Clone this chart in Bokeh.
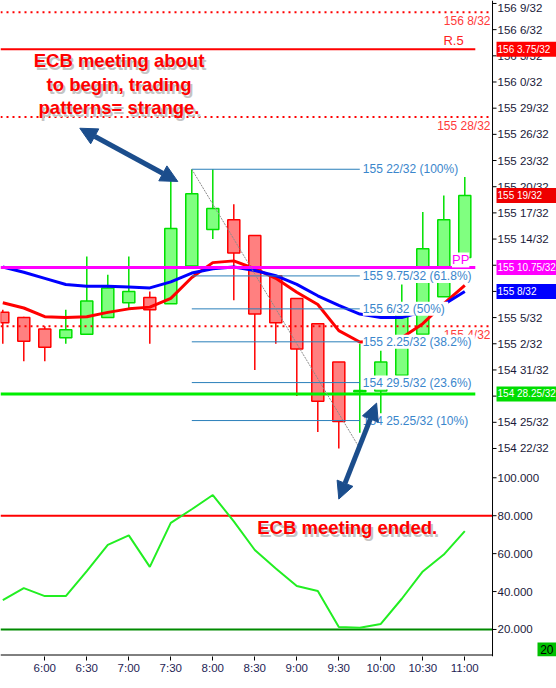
from bokeh.plotting import figure
from bokeh.models import (ColumnDataSource, Range1d, FixedTicker, Label, LabelSet, Arrow,
                          NormalHead, Span)
from bokeh.core.properties import value
from bokeh.embed import file_html
from bokeh.resources import INLINE

# ---------------- data ----------------
bar_times = ["5:30", "5:45", "6:00", "6:15", "6:30", "6:45", "7:00", "7:15", "7:30", "7:45",
             "8:00", "8:15", "8:30", "8:45", "9:00", "9:15", "9:30", "9:45", "10:00", "10:15",
             "10:30", "10:45", "11:00"]
# prices in 32nds above 154 0/32   (price = 154 + v/32)
open32 = [37.6, 37.0, 35.7, 34.7, 35.1, 37.0, 38.7, 39.3, 38.6, 42.9, 47.1, 48.2,
          46.4, 41.8, 39.2, 36.3, 31.9, 28.5, 28.6, 30.4, 35.1, 39.4, 43.9]
high32 = [37.9, 37.1, 36.0, 37.9, 44.0, 41.9, 44.0, 40.0, 52.7, 54.0, 54.0, 50.0,
          46.4, 41.8, 39.2, 36.3, 31.9, 34.0, 33.2, 40.8, 49.1, 51.0, 53.1]
low32 = [34.0, 32.0, 32.0, 34.0, 35.0, 37.0, 38.0, 34.0, 38.6, 42.9, 46.0, 39.0,
         31.0, 34.0, 28.0, 23.9, 22.0, 23.8, 26.0, 30.4, 35.1, 39.4, 43.9]
close32 = [36.4, 34.3, 33.6, 35.6, 38.9, 40.4, 40.0, 37.9, 47.2, 51.2, 49.5, 44.4,
           37.4, 36.4, 33.4, 27.4, 25.1, 28.65, 31.9, 37.9, 44.9, 48.2, 51.0]
ma_fast32 = [38.7, 38.1, 37.1, 37.0, 37.1, 37.6, 38.0, 38.2, 39.2, 41.6, 43.3, 43.5,
             42.6, 41.5, 39.9, 38.5, 35.5, 34.2, 34.3, 34.7, 36.3, 38.6, 40.7]
ma_slow32 = [42.8, 42.2, 41.5, 40.8, 40.6, 40.6, 40.5, 40.4, 41.1, 42.1, 42.6, 42.8,
             42.4, 41.8, 40.8, 39.5, 38.4, 37.4, 37.0, 37.0, 37.7, 38.5, 40.0]
oscillator = [35.5, 41.8, 37.6, 37.6, 50.8, 64.6, 69.6, 53.0, 76.2, 83.4, 90.9, 77.0,
              61.9, 52.2, 42.9, 40.3, 21.3, 20.9, 22.9, 36.2, 50.6, 59.5, 71.9]

time_ticks = ["6:00", "6:30", "7:00", "7:30", "8:00", "8:30", "9:00", "9:30",
              "10:00", "10:30", "11:00"]
price_ticks32 = list(range(22, 74, 3))
osc_ticks = [20, 40, 60, 80, 100]
osc_levels = [80, 20]
osc_level_colors = ["#ff0000", "#008a00"]
osc_period_tag = "20"

pivot_levels32 = [67.75, 42.75, 28.25]          # R.5, PP, support
pivot_colors = ["#ff0000", "#ff00ff", "#00ee00"]
pivot_widths = [2, 3, 3]
dotted_levels32 = [72, 60, 36]

fib_high32, fib_low32 = 54, 22
fib_high_bar, fib_low_bar = "7:45", "9:45"
fib_ratios = [1.0, 0.618, 0.5, 0.382, 0.236, 0.1]


# ---------------- helpers ----------------
def tmin(s):
    h, m = s.split(":")
    return int(h) * 60 + int(m)


def pr(v):
    return 154 + v / 32.0


def fmt32(v):
    q = round(v * 4) / 4
    whole = int(q // 32)
    f = q - 32 * whole
    fs = ("%d" % f) if f == int(f) else ("%g" % f)
    return "%d %s/32" % (154 + whole, fs)


FONT = "Liberation Sans"
W, H = 556, 688
X_LO, X_HI = 328.36, 725.5      # visible time span (minutes)
AXIS_T = 679.8                  # where the price scale sits
P_LO, P_HI = pr(-1.84), pr(73.34)
O_LO, O_HI = 5.75, 351.7
O_BASE = 6.54                   # bottom edge of the chart area (oscillator units)
PX_PER_MIN = W / (X_HI - X_LO)

t = [tmin(s) for s in bar_times]
half_bar = (t[1] - t[0]) / 2.0

p = figure(width=W, height=H, x_range=Range1d(X_LO, X_HI), y_range=Range1d(P_LO, P_HI),
           output_backend="svg", toolbar_location=None, y_axis_location=None,
           min_border_left=0, min_border_top=0, min_border_right=0, min_border_bottom=32)
p.extra_y_ranges = {"osc": Range1d(O_LO, O_HI)}
p.xgrid.visible = False
p.ygrid.visible = False
p.outline_line_color = None
p.background_fill_color = "white"
p.border_fill_color = "white"

# x axis
xa = p.xaxis[0]
xa.ticker = FixedTicker(ticks=[tmin(s) for s in time_ticks])
xa.major_label_overrides = {tmin(s): s for s in time_ticks}
xa.major_tick_out = 4
xa.major_tick_in = 0
xa.minor_tick_out = 0
xa.minor_tick_in = 0
xa.axis_line_color = None
xa.major_tick_line_color = "black"
xa.major_label_text_font = FONT
xa.major_label_text_font_size = "11.5px"
xa.major_label_text_color = "#1e1e55"
xa.major_label_standoff = 1

# oscillator panel
for lvl, col in zip(osc_levels, osc_level_colors):
    p.segment(x0=[X_LO], y0=[lvl], x1=[AXIS_T], y1=[lvl], y_range_name="osc",
              line_color=col, line_width=2)
p.line(t, oscillator, y_range_name="osc", line_color="#22ee22", line_width=2)

# candles
up = [c >= o for o, c in zip(open32, close32)]


def cds(flag):
    idx = [i for i in range(len(t)) if up[i] == flag]
    return ColumnDataSource(dict(
        x=[t[i] for i in idx],
        top=[pr(max(open32[i], close32[i])) for i in idx],
        bottom=[pr(min(open32[i], close32[i])) for i in idx],
        high=[pr(high32[i]) for i in idx],
        low=[pr(low32[i]) for i in idx]))


for flag, line_c, fill_c in [(True, "#00e000", "#80ff80"), (False, "#ff0000", "#ff8080")]:
    s = cds(flag)
    p.segment(x0="x", y0="low", x1="x", y1="high", source=s, line_color=line_c, line_width=1.5)
    p.vbar(x="x", width=8.6, top="top", bottom="bottom", source=s,
           fill_color=fill_c, line_color=line_c, line_width=1.5)

# moving averages
p.line(t, [pr(v) for v in ma_fast32], line_color="#ff0000", line_width=3)
p.line(t, [pr(v) for v in ma_slow32], line_color="#0000ff", line_width=3)

# pivot lines
for lvl, col, w in zip(pivot_levels32, pivot_colors, pivot_widths):
    p.segment(x0=[X_LO], y0=[pr(lvl)], x1=[t[-1] + half_bar], y1=[pr(lvl)],
              line_color=col, line_width=w)

# dotted levels
for lvl in dotted_levels32:
    p.segment(x0=[X_LO], y0=[pr(lvl)], x1=[AXIS_T], y1=[pr(lvl)], line_color="#ff0000",
              line_width=2, line_dash="2 4")
    p.add_layout(Label(x=AXIS_T, y=pr(lvl), x_offset=-2, y_offset=-2, text=fmt32(lvl),
                       text_align="right", text_baseline="top", text_color="#ff3a3a",
                       text_font=FONT, text_font_size="12px"))

# fibonacci retracement
tf0, tf1 = tmin(fib_high_bar), tmin(fib_low_bar)
fib_lv = [fib_low32 + r * (fib_high32 - fib_low32) for r in fib_ratios]
p.segment(x0=[tf0] * len(fib_lv), y0=[pr(v) for v in fib_lv], x1=[tf1] * len(fib_lv),
          y1=[pr(v) for v in fib_lv], line_color="#2a7fba", line_width=1)
p.line([tf0, tf1], [pr(fib_high32), pr(fib_low32)], line_color="#8a8a8a", line_width=1,
       line_dash="2 1")
fib_src = ColumnDataSource(dict(
    x=[tf1] * len(fib_lv), y=[pr(v) for v in fib_lv],
    text=["%s  (%s%%)" % (fmt32(v), "%g" % round(r * 100, 1)) for v, r in zip(fib_lv, fib_ratios)]))
p.add_layout(LabelSet(x="x", y="y", text="text", source=fib_src, x_offset=3,
                      text_baseline="middle", text_align="left", text_color="#3a86cc",
                      text_font=value(FONT), text_font_size=value("12px"),
                      background_fill_color="white"))

# pivot labels
p.add_layout(Label(x=t[-1] + half_bar, y=pr(pivot_levels32[1]), x_offset=-6, text="PP",
                   text_align="right", text_baseline="bottom", text_color="#ff00ff",
                   text_font=FONT, text_font_size="13px", background_fill_color="white"))
p.add_layout(Label(x=tmin("10:52"), y=pr(pivot_levels32[0]), y_offset=1, text="R.5",
                   text_align="center", text_baseline="bottom", text_color="#ff2020",
                   text_font=FONT, text_font_size="13px"))

# ---------------- price / oscillator scale on the right ----------------
p.add_layout(Span(location=AXIS_T, dimension="height", line_color="black", line_width=1))
p.segment(x0=[X_LO], y0=[O_BASE], x1=[AXIS_T], y1=[O_BASE], y_range_name="osc",
          line_color="black", line_width=1)
# the topmost price label is nudged down a few pixels so it stays fully inside the chart
scale_src = ColumnDataSource(dict(x=[AXIS_T] * len(price_ticks32),
                                  y=[pr(v) for v in price_ticks32],
                                  text=[fmt32(v) for v in price_ticks32],
                                  dy=[5 if v == max(price_ticks32) else 0 for v in price_ticks32]))
osc_src = ColumnDataSource(dict(x=[AXIS_T] * len(osc_ticks), y=osc_ticks,
                                text=["%.3f" % o for o in osc_ticks],
                                dy=[0] * len(osc_ticks)))
for src, rname in [(scale_src, "default"), (osc_src, "osc")]:
    p.ray(x="x", y="y", length=4, length_units="screen", angle=0, source=src,
          y_range_name=rname, line_color="black", line_width=1)
    p.text(x="x", y="y", text="text", source=src, y_range_name=rname, x_offset=5,
           y_offset="dy", text_align="left", text_baseline="middle", text_color="#1a1a3a",
           text_font=value(FONT), text_font_size=value("11.5px"))

# colored value tags on the scale (box glyph + white text)
tag_values32 = [pivot_levels32[0], close32[-1], pivot_levels32[1], ma_slow32[-1], pivot_levels32[2]]
tag_colors = ["#ff0000", "#ee0000", "#ff00ff", "#0000ff", "#00dd00"]
tag_left = AXIS_T + 4 / PX_PER_MIN
p.rect(x=[(tag_left + X_HI) / 2] * len(tag_values32), y=[pr(v) for v in tag_values32],
       width=X_HI - tag_left, height=15, height_units="screen",
       fill_color=tag_colors, line_color=None)
for lvl in tag_values32:
    p.add_layout(Label(x=AXIS_T, y=pr(lvl), x_offset=5, text=fmt32(lvl), text_align="left",
                       text_baseline="middle", text_color="white", text_font=FONT,
                       text_font_size="10px"))
tag20_left = X_HI - 19 / PX_PER_MIN
p.rect(x=[(tag20_left + X_HI) / 2], y=[9.4], y_range_name="osc", width=X_HI - tag20_left,
       height=14, height_units="screen", fill_color="#00c000", line_color=None)
p.add_layout(Label(x=X_HI, y=9.4, y_range_name="osc", x_offset=-3, text=osc_period_tag,
                   text_align="right", text_baseline="middle", text_color="black",
                   text_font=FONT, text_font_size="12px"))

# ---------------- annotations ----------------
ann_color = "#1b4d8c"
for (x0, y0, x1, y1) in [(tmin("6:25"), pr(58.7), tmin("7:35"), pr(52.6)),
                         (tmin("9:57"), pr(27.2), tmin("9:30"), pr(16.2))]:
    p.add_layout(Arrow(x_start=x0, y_start=y0, x_end=x1, y_end=y1, line_color=ann_color,
                       line_width=5,
                       start=NormalHead(size=17, fill_color=ann_color, line_color=ann_color),
                       end=NormalHead(size=17, fill_color=ann_color, line_color=ann_color)))

ecb_lines = ["ECB meeting about", "to begin, trading", "patterns= strange."]
ecb_y32 = [66.45, 63.7, 61.1]
for txt, yv in zip(ecb_lines, ecb_y32):
    for col, dx, dy in [("#c4c4c4", 2, -3), ("#ff0000", 0, 0)]:
        p.add_layout(Label(x=tmin("6:53"), y=pr(yv), x_offset=dx, y_offset=dy, text=txt,
                           text_align="center", text_baseline="middle", text_color=col,
                           text_font=FONT, text_font_style="bold", text_font_size="18.5px"))
for col, dx, dy in [("#c4c4c4", 2, -3), ("#ff0000", 0, 0)]:
    p.add_layout(Label(x=tmin("9:36"), y=73.6, y_range_name="osc", x_offset=dx, y_offset=dy,
                       text="ECB meeting ended.", text_align="center", text_baseline="middle",
                       text_color=col, text_font=FONT, text_font_style="bold",
                       text_font_size="18.5px"))

open("out.html", "w").write(file_html(p, INLINE))
